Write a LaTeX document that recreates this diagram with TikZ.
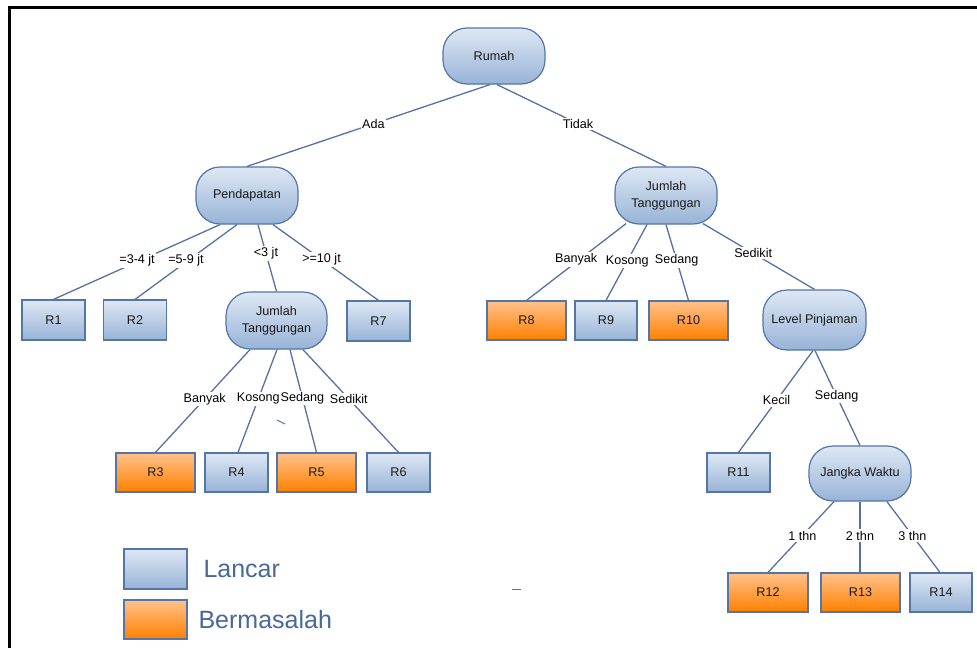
\documentclass[tikz,border=0pt]{standalone}
\usepackage{fontspec}
\setmainfont{Liberation Sans}
\definecolor{bluetop}{RGB}{222,232,244}
\definecolor{bluebot}{RGB}{152,179,215}
\definecolor{orgtop}{RGB}{255,194,140}
\definecolor{orgbot}{RGB}{255,128,0}
\definecolor{bordercol}{RGB}{84,117,166}
\definecolor{edgecol}{RGB}{84,114,162}
\definecolor{legcol}{RGB}{72,104,156}
\definecolor{txtcol}{RGB}{25,25,25}
\begin{document}
\begin{tikzpicture}[x=1pt,y=-1pt,
  every node/.style={text=txtcol, font=\fontsize{12.6}{17.5}\selectfont},
  leafb/.style={rectangle, draw=bordercol, line width=1.2pt, top color=bluetop, bottom color=bluebot, minimum width=63pt, minimum height=40pt, inner sep=0pt},
  leafo/.style={rectangle, draw=bordercol, line width=1.2pt, top color=orgtop, bottom color=orgbot, minimum width=79pt, minimum height=39pt, inner sep=0pt},
  decnode/.style={rectangle, rounded corners=24pt, draw=bordercol, line width=1.2pt, top color=bluetop, bottom color=bluebot, minimum width=102pt, minimum height=57pt, inner sep=0pt, align=center},
  edge/.style={draw=edgecol, line width=1.3pt},
  lbl/.style={fill=white, inner sep=1.5pt, pos=0.48, text=black},
  legtxt/.style={anchor=west, text=legcol, font=\fontsize{25}{28}\selectfont}
]
\useasboundingbox (0,0) rectangle (977,648);
\draw[line width=3pt, black] (9.5,648) -- (9.5,7.5) -- (977,7.5);

% decision nodes
\node[decnode, minimum height=56pt] (rumah) at (494,56) {Rumah};
\node[decnode] (pend) at (247,195.5) {Pendapatan};
\node[decnode, minimum width=101pt] (jtl) at (276.5,320.5) {Jumlah\\Tanggungan};
\node[decnode] (jtr) at (666,195.5) {Jumlah\\Tanggungan};
\node[decnode, minimum width=103pt, minimum height=60pt] (lp) at (814.5,320) {Level Pinjaman};
\node[decnode, minimum height=55pt] (jw) at (860,473.5) {Jangka Waktu};

% leaves
\node[leafb] (r1) at (53.5,320) {R1};
\node[leafb] (r2) at (135,320) {R2};
\node[leafb] (r7) at (378.5,321) {R7};
\node[leafo] (r3) at (155.5,472.5) {R3};
\node[leafb, minimum height=39pt] (r4) at (236.5,472.5) {R4};
\node[leafo] (r5) at (316.5,472.5) {R5};
\node[leafb, minimum height=39pt] (r6) at (398.5,472.5) {R6};
\node[leafo] (r8) at (526.5,320.5) {R8};
\node[leafb, minimum width=62pt, minimum height=39pt] (r9) at (606,320.5) {R9};
\node[leafo] (r10) at (688.5,320.5) {R10};
\node[leafb, minimum height=39pt] (r11) at (738.5,472.5) {R11};
\node[leafo, minimum width=80pt] (r12) at (768,592.5) {R12};
\node[leafo] (r13) at (860.5,592.5) {R13};
\node[leafb, minimum width=62pt, minimum height=39pt] (r14) at (941,592.5) {R14};

% edges
\draw[edge] ([xshift=-4pt]rumah.south) -- (pend.north) node[lbl]{Ada};
\draw[edge] ([xshift=3pt]rumah.south) -- (jtr.north) node[lbl]{Tidak};

\draw[edge] ([xshift=-27pt]pend.south) -- (r1.north) node[lbl, xshift=-3pt]{=3-4 jt};
\draw[edge] ([xshift=-10pt]pend.south) -- (r2.north) node[lbl, xshift=-2pt]{=5-9 jt};
\draw[edge] ([xshift=11pt]pend.south) -- (jtl.north) node[lbl, pos=0.43]{<3 jt};
\draw[edge] ([xshift=26pt]pend.south) -- (r7.north) node[lbl, pos=0.46]{>=10 jt};

\draw[edge] ([xshift=-26.5pt]jtl.south) -- (r3.north) node[lbl]{Banyak};
\draw[edge] ([xshift=0.5pt]jtl.south) -- ([xshift=1.5pt]r4.north) node[lbl]{Kosong};
\draw[edge] ([xshift=13.5pt]jtl.south) -- (r5.north) node[lbl, pos=0.47]{Sedang};
\draw[edge] ([xshift=26.5pt]jtl.south) -- (r6.north) node[lbl]{Sedikit};

\draw[edge] ([xshift=-40pt,yshift=1pt]jtr.south) -- (r8.north) node[lbl, pos=0.47, xshift=-3pt]{Banyak};
\draw[edge] ([xshift=-19pt]jtr.south) -- (r9.north) node[lbl]{Kosong};
\draw[edge] (jtr.south) -- (r10.north) node[lbl, pos=0.47]{Sedang};
\draw[edge] ([xshift=37pt,yshift=1pt]jtr.south) -- (lp.north) node[lbl, pos=0.45]{Sedikit};

\draw[edge] ([xshift=-1.5pt]lp.south) -- (r11.north) node[lbl, pos=0.49]{Kecil};
\draw[edge] ([xshift=0.5pt]lp.south) -- (jw.north) node[lbl]{Sedang};

\draw[edge] ([xshift=-26pt]jw.south) -- (r12.north) node[lbl]{1 thn};
\draw[edge] (jw.south) -- ([xshift=-0.5pt]r13.north) node[lbl]{2 thn};
\draw[edge] ([xshift=27pt]jw.south) -- ([xshift=-1pt]r14.north) node[lbl]{3 thn};

% stray marks
\draw[edge, line width=1pt] (277,420) -- (285,424);
\draw[edge, line width=1pt] (512,589) -- (521,589);

% legend
\node[leafb] (lb) at (155.5,569) {};
\node[leafo, minimum width=63pt] (lo) at (155.5,619.5) {};
\node[legtxt] (ltxt) at (200,569) {Lancar};
\node[legtxt] (otxt) at (195,620) {Bermasalah};
\end{tikzpicture}
\end{document}
